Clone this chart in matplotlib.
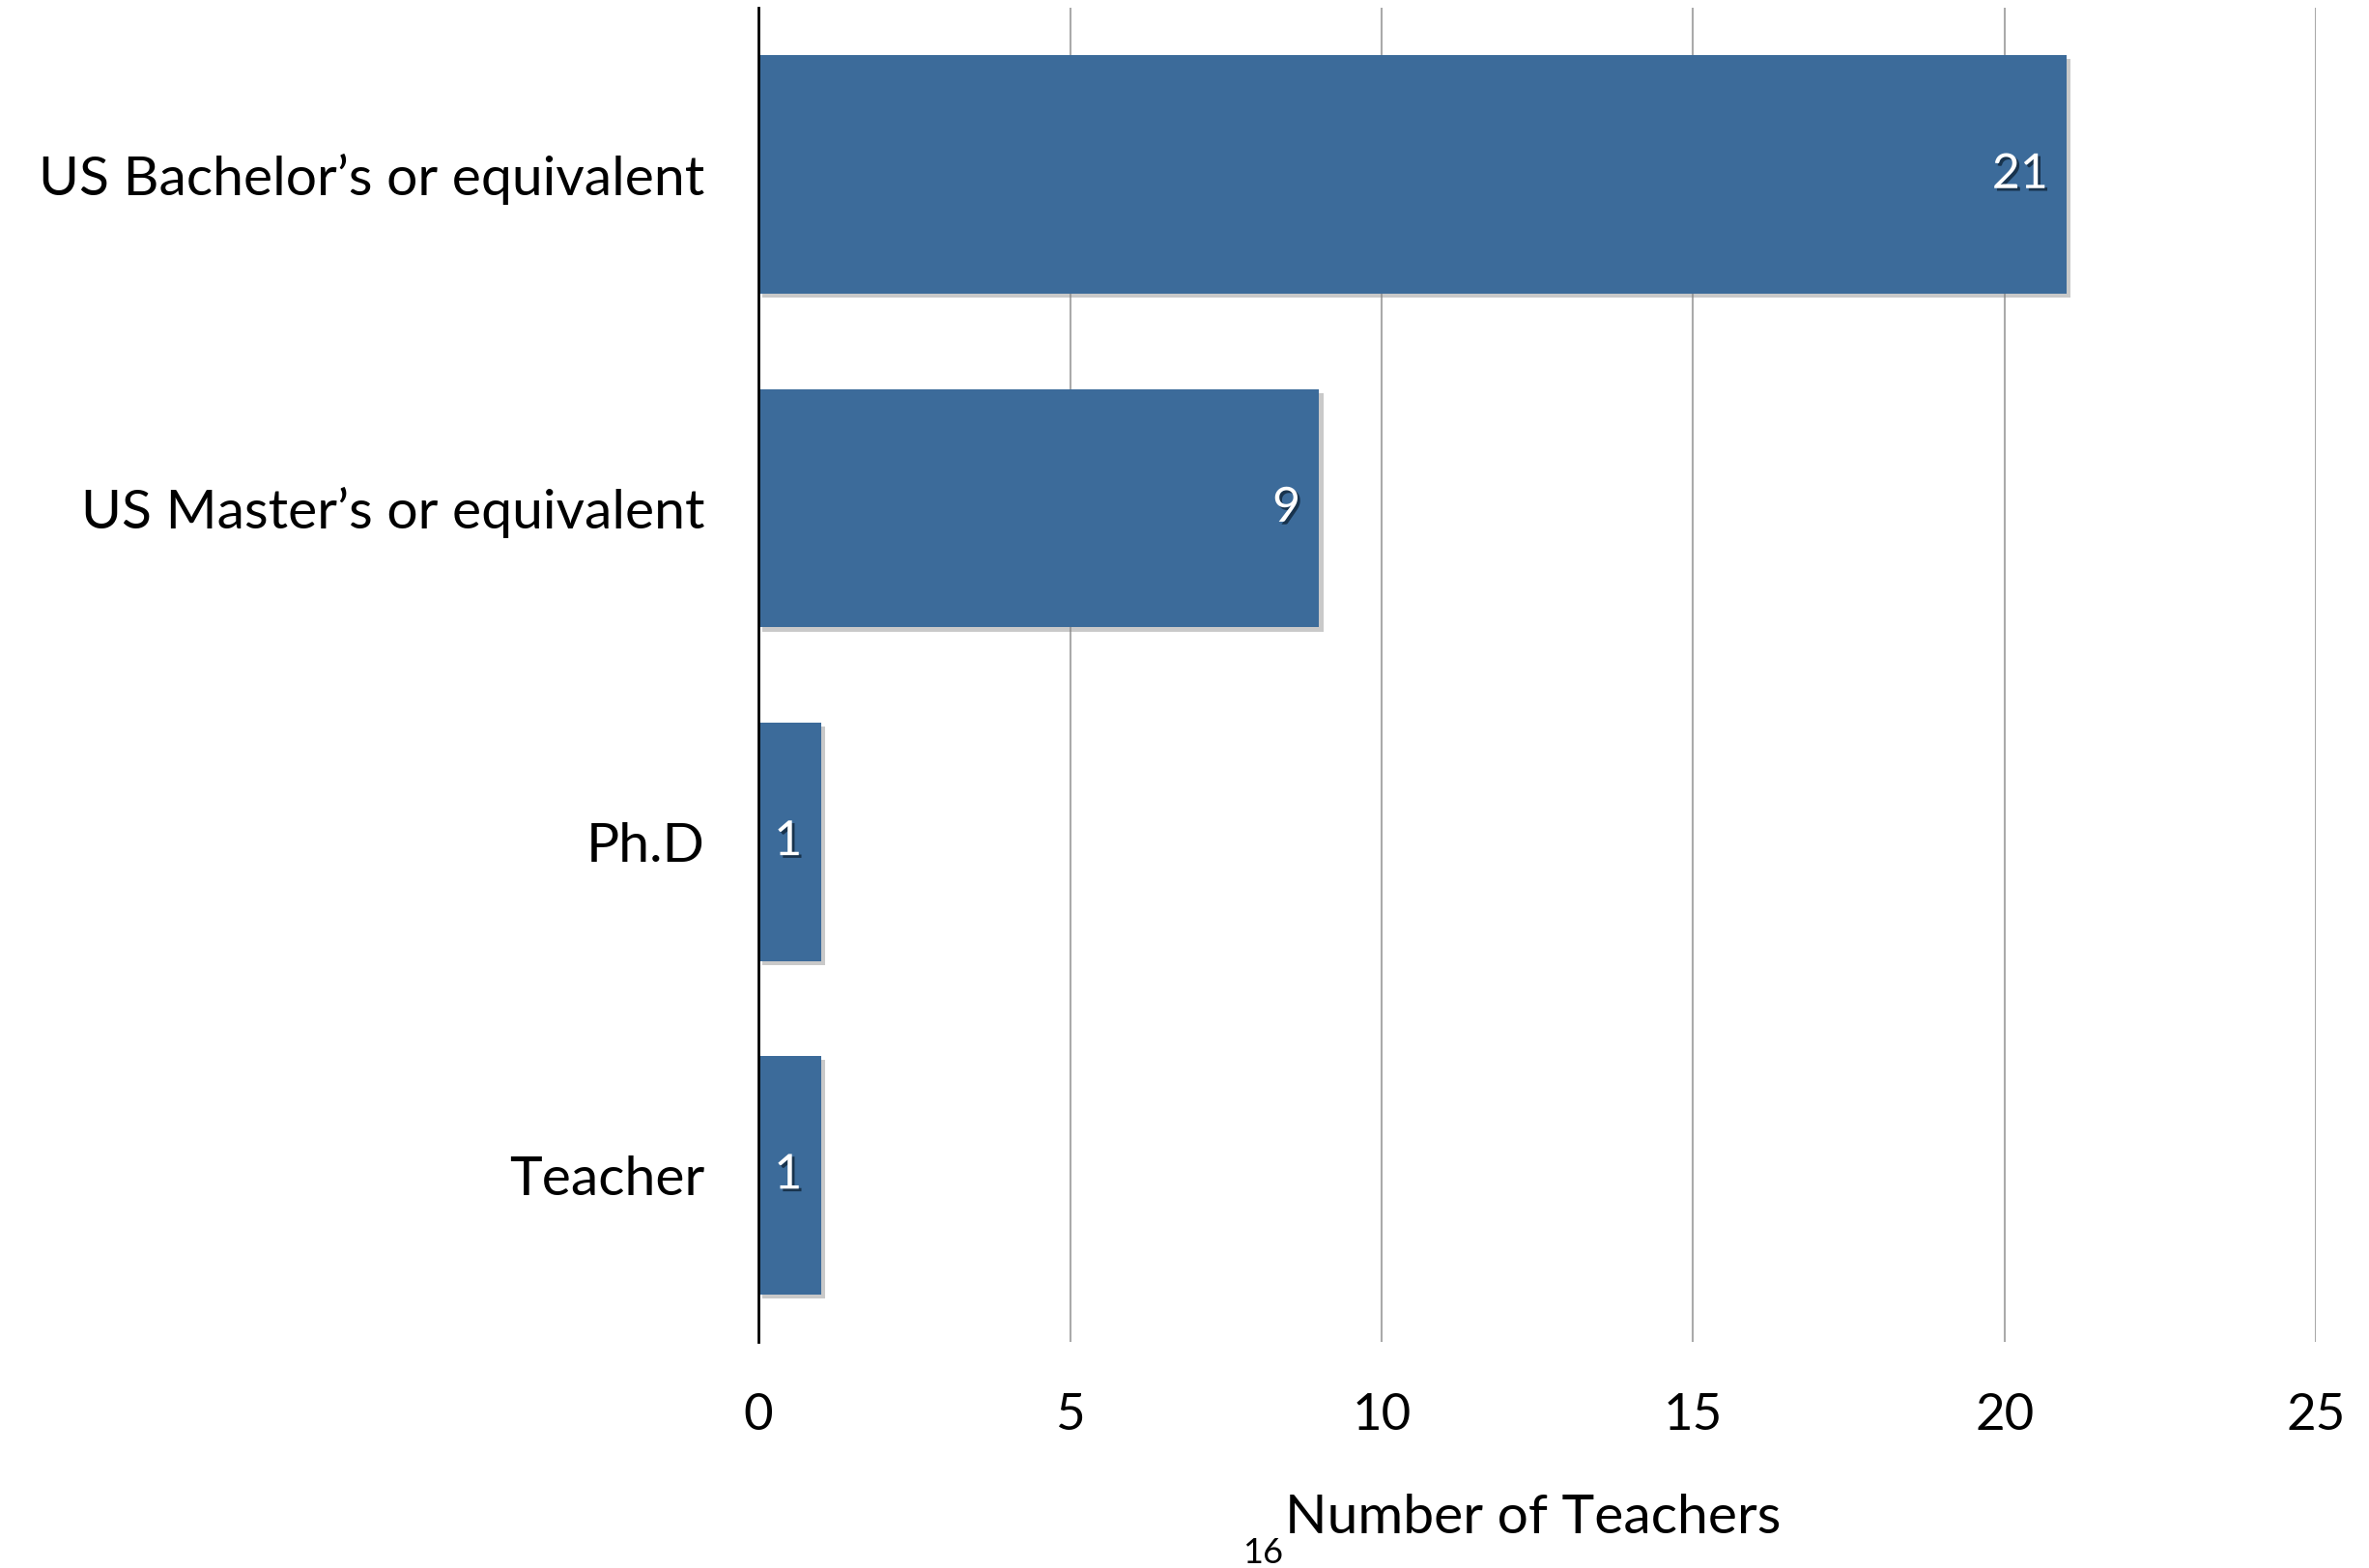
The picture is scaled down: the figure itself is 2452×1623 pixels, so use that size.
import matplotlib
matplotlib.use('Agg')
import matplotlib.pyplot as plt
import matplotlib.patheffects as pe

plt.rcParams['font.family'] = ['Lato', 'DejaVu Sans']

# degree categories, top to bottom
categories = ["US Bachelor\u2019s or equivalent", "US Master\u2019s or equivalent", "Ph.D", "Teacher"]
counts = [21, 9, 1, 1]
xticks = [0, 5, 10, 15, 20, 25]

bar_color = '#3c6b9a'

fig = plt.figure(figsize=(24.52, 16.23), dpi=100)
ax = fig.add_axes([0.3202, 0.1442, 0.6574, 0.8508])

ypos = list(range(len(categories)))
bars = ax.barh(ypos, counts, height=0.715, color=bar_color, zorder=3)
for b in bars:
    b.set_path_effects([pe.SimplePatchShadow(offset=(3, -3), shadow_rgbFace='#888888', alpha=0.45),
                        pe.Normal()])

# value labels inside the bar ends, white with a dark shadow
for y, v in zip(ypos, counts):
    ax.text(v - 0.3, y, str(v), ha='right', va='center', color='white',
            fontsize=36, zorder=5,
            path_effects=[pe.withSimplePatchShadow(offset=(2, -2), shadow_rgbFace='#10253a', alpha=0.8)])

ax.set_ylim(len(categories) - 0.5, -0.5)
ax.set_xlim(0, 25)
ax.set_xticks(xticks)
ax.set_xticklabels([str(t) for t in xticks])
ax.set_yticks(ypos)
ax.set_yticklabels(categories)
ax.tick_params(axis='x', length=0, pad=38, labelsize=38)
ax.tick_params(axis='y', length=0, pad=40, labelsize=41)

ax.grid(axis='x', color='#aaaaaa', linewidth=1.5, zorder=0)
ax.spines['top'].set_visible(False)
ax.spines['right'].set_visible(False)
ax.spines['bottom'].set_visible(False)
ax.spines['left'].set_color('black')
ax.spines['left'].set_linewidth(2)
ax.spines['left'].set_zorder(4)

fig.text(0.5425, 0.022, 'Number of Teachers', fontsize=41, ha='left', va='baseline')
fig.text(0.5415, 0.003, '16', fontsize=26, ha='right', va='baseline')

fig.savefig('out.png', dpi=100)
